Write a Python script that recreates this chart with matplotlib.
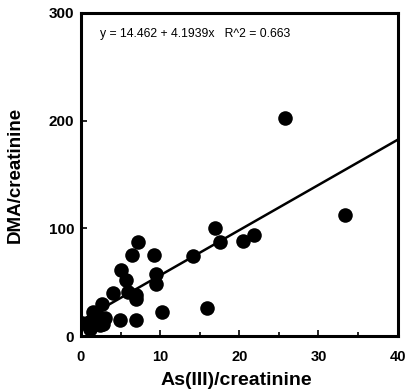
import matplotlib
matplotlib.use("Agg")
import matplotlib.pyplot as plt
import numpy as np

plt.rcParams['font.family'] = ['Liberation Sans', 'DejaVu Sans']

x_vals = [33.4, 25.8, 16.9, 17.5, 20.5, 21.9, 14.1, 15.9, 10.2, 7.2, 6.4, 9.2,
          9.5, 9.5, 5.1, 5.7, 5.9, 7.0, 7.0, 4.0, 4.9, 7.0, 2.6, 3.0, 2.0,
          1.4, 0.1, 1.1, 2.4, 1.5, 2.8]
y_vals = [112, 202, 100, 87, 88, 94, 74, 26, 22, 87, 75, 75,
          58, 48, 61, 52, 41, 38, 34, 40, 15, 15, 30, 17, 20,
          13, 12, 7, 10, 22, 11]
intercept = 14.462
slope = 4.1939
eq_text = "y = 14.462 + 4.1939x   R^2 = 0.663"

fig = plt.figure(figsize=(4.07, 3.89), dpi=100)
ax = fig.add_axes([0.199, 0.136, 0.778, 0.831])
ax.scatter(x_vals, y_vals, s=110, color='black', zorder=3, linewidths=0)
xl = np.array([min(x_vals), 40])
ax.plot(xl, intercept + slope * xl, color='black', lw=1.8)
ax.set_xlim(0, 40)
ax.set_ylim(0, 300)
ax.set_xticks([0, 10, 20, 30, 40])
ax.set_yticks([0, 100, 200, 300])
ax.set_xticks([5, 15, 25, 35], minor=True)
ax.tick_params(direction='in', length=4, width=1.2, labelsize=11)
ax.tick_params(axis='x', pad=10, labelsize=10.5)
ax.tick_params(axis='y', pad=5)
ax.tick_params(which='minor', direction='in', length=3, width=1.2)
for lab in ax.get_xticklabels() + ax.get_yticklabels():
    lab.set_fontweight('bold')
for sp in ax.spines.values():
    sp.set_linewidth(2.2)
ax.set_xlabel("As(III)/creatinine", fontsize=14, fontweight='bold')
ax.xaxis.set_label_coords(0.49, -0.11, transform=ax.transAxes)
ax.xaxis.label.set_va('top')
ax.set_ylabel("DMA/creatinine", fontsize=13.5, fontweight='bold', labelpad=18)
ax.text(0.06, 0.935, eq_text, transform=ax.transAxes, fontsize=8.8, va='center')
fig.savefig("out.png", dpi=100)
